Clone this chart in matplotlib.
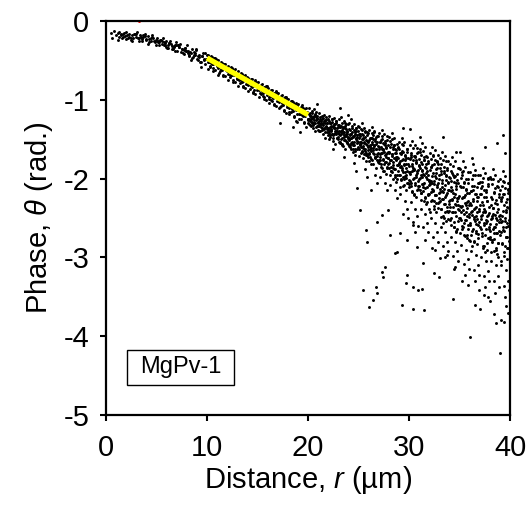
import numpy as np
import matplotlib
matplotlib.use("Agg")
from matplotlib import pyplot as plt
from matplotlib.patches import Rectangle

plt.rcParams['font.family'] = ['Liberation Sans', 'DejaVu Sans']
plt.rcParams['mathtext.fontset'] = 'custom'
plt.rcParams['mathtext.it'] = 'Liberation Sans:italic'
plt.rcParams['mathtext.rm'] = 'Liberation Sans'

near_pts = np.array([
    0.5, -0.15, 0.6, -0.22, 0.8, -0.13, 1.0, -0.18, 1.2, -0.24, 1.3, -0.14, 1.5, -0.17, 1.7, -0.2,
    1.8, -0.15, 2.0, -0.23, 2.1, -0.18, 2.3, -0.16, 2.5, -0.21, 2.6, -0.25, 2.8, -0.17, 3.0, -0.2,
    3.1, -0.14, 3.3, -0.22, 3.4, -0.18, 3.6, -0.26, 3.7, -0.2, 3.9, -0.17, 4.0, -0.23, 4.2, -0.19,
    4.3, -0.27, 4.5, -0.22, 4.6, -0.18, 4.8, -0.25, 4.9, -0.3,
    5.0, -0.21, 5.2, -0.27, 5.3, -0.24, 5.5, -0.29, 5.6, -0.22, 5.8, -0.31, 5.9, -0.26, 6.0, -0.34,
    6.2, -0.28, 6.3, -0.25, 6.5, -0.32, 6.6, -0.36, 6.8, -0.3, 6.9, -0.27, 7.0, -0.38, 7.2, -0.33,
    7.3, -0.29, 7.5, -0.36, 7.6, -0.41, 7.8, -0.34, 7.9, -0.38, 8.0, -0.31, 8.2, -0.43, 8.3, -0.39,
    8.5, -0.36, 8.6, -0.46, 8.8, -0.41, 8.9, -0.37, 9.0, -0.48, 9.2, -0.43, 9.3, -0.52, 9.5, -0.45,
    9.6, -0.41, 9.8, -0.55, 9.9, -0.48, 5.1, -0.25, 5.7, -0.27, 6.1, -0.3, 6.7, -0.33, 7.1, -0.31,
    7.7, -0.37, 8.1, -0.4, 8.7, -0.43, 9.1, -0.45, 9.7, -0.5, 9.4, -0.58, 8.4, -0.5,
    10.05, -0.43, 10.1, -0.52, 10.2, -0.47, 10.3, -0.57, 10.35, -0.5, 10.45, -0.46, 10.5, -0.55,
    10.6, -0.6, 10.65, -0.49, 10.75, -0.53, 10.8, -0.62, 10.9, -0.5, 10.95, -0.57, 10.4, -0.53,
    11.05, -0.5, 11.1, -0.6, 11.2, -0.55, 11.3, -0.64, 11.35, -0.57, 11.45, -0.53, 11.5, -0.62,
    11.6, -0.68, 11.65, -0.56, 11.75, -0.6, 11.8, -0.7, 11.9, -0.58, 11.95, -0.64, 11.4, -0.61,
    12.05, -0.57, 12.1, -0.67, 12.2, -0.62, 12.3, -0.71, 12.35, -0.64, 12.45, -0.6, 12.5, -0.69,
    12.6, -0.75, 12.65, -0.63, 12.75, -0.68, 12.8, -0.78, 12.9, -0.66, 12.95, -0.72, 12.4, -0.68,
    13.05, -0.64, 13.1, -0.74, 13.2, -0.69, 13.3, -0.79, 13.35, -0.71, 13.45, -0.67, 13.5, -0.77,
    13.6, -0.83, 13.65, -0.7, 13.75, -0.75, 13.8, -0.85, 13.9, -0.73, 13.95, -0.8, 13.4, -0.75,
    14.05, -0.72, 14.1, -0.81, 14.2, -0.76, 14.3, -0.86, 14.35, -0.78, 14.45, -0.74, 14.5, -0.84,
    14.6, -0.9, 14.65, -0.77, 14.75, -0.82, 14.8, -0.93, 14.9, -0.8, 14.95, -0.87, 14.4, -0.82,
    15.05, -0.78, 15.1, -0.88, 15.2, -0.83, 15.3, -0.93, 15.35, -0.85, 15.45, -0.8, 15.5, -0.91,
    15.6, -0.97, 15.65, -0.84, 15.75, -0.89, 15.8, -1.0, 15.9, -0.87, 15.95, -0.94, 15.4, -0.89,
    16.05, -0.85, 16.1, -0.96, 16.2, -0.9, 16.3, -1.0, 16.35, -0.92, 16.45, -0.87, 16.5, -0.98,
    16.6, -1.05, 16.65, -0.91, 16.75, -0.96, 16.8, -1.08, 16.9, -0.94, 16.95, -1.01, 16.4, -0.96,
    17.05, -0.92, 17.1, -1.03, 17.2, -0.97, 17.3, -1.08, 17.35, -0.99, 17.45, -0.94, 17.5, -1.06,
    17.6, -1.13, 17.65, -0.98, 17.75, -1.04, 17.8, -1.17, 17.9, -1.01, 17.95, -1.09, 17.4, -1.04,
    18.05, -0.99, 18.1, -1.11, 18.2, -1.04, 18.3, -1.16, 18.35, -1.07, 18.45, -1.01, 18.5, -1.14,
    18.6, -1.22, 18.65, -1.05, 18.75, -1.11, 18.8, -1.27, 18.9, -1.08, 18.95, -1.18, 18.4, -1.12,
    19.05, -1.05, 19.1, -1.18, 19.2, -1.11, 19.3, -1.24, 19.35, -1.14, 19.45, -1.07, 19.5, -1.21,
    19.6, -1.3, 19.65, -1.12, 19.75, -1.18, 19.8, -1.34, 19.9, -1.15, 19.95, -1.26, 19.4, -1.19,
    17.2, -1.3, 18.5, -1.35, 19.2, -1.41, 18.9, -1.28,
]).reshape(-1, 2)

# second pass over the dense ribbon below 20 um
near_core = np.array([
    1.15, -0.15, 1.25, -0.2, 1.45, -0.18, 1.55, -0.22, 1.7, -0.16, 1.85, -0.19, 1.95, -0.14,
    2.15, -0.22, 2.25, -0.2, 2.45, -0.24, 2.55, -0.18, 2.7, -0.21, 2.85, -0.16, 2.95, -0.17,
    3.15, -0.21, 3.25, -0.26, 3.45, -0.2, 3.55, -0.23, 3.7, -0.18, 3.85, -0.19, 3.95, -0.24,
    4.15, -0.29, 4.25, -0.23, 4.45, -0.26, 4.55, -0.2, 4.7, -0.21, 4.85, -0.27, 4.95, -0.24,
    5.15, -0.27, 5.25, -0.3, 5.45, -0.24, 5.55, -0.25, 5.7, -0.31, 5.85, -0.28, 5.95, -0.33,
    6.15, -0.34, 6.25, -0.28, 6.45, -0.29, 6.55, -0.35, 6.7, -0.32, 6.85, -0.38, 6.95, -0.3,
    7.15, -0.31, 7.25, -0.33, 7.45, -0.39, 7.55, -0.36, 7.7, -0.42, 7.85, -0.34, 7.95, -0.38,
    8.15, -0.38, 8.25, -0.44, 8.45, -0.41, 8.55, -0.47, 8.7, -0.39, 8.85, -0.43, 8.95, -0.36,
    9.15, -0.49, 9.25, -0.46, 9.45, -0.52, 9.55, -0.44, 9.7, -0.48, 9.85, -0.41, 9.95, -0.43,
    10.15, -0.52, 10.25, -0.59, 10.45, -0.5, 10.55, -0.54, 10.7, -0.47, 10.85, -0.48, 10.95, -0.55,
    11.15, -0.66, 11.25, -0.57, 11.45, -0.61, 11.55, -0.54, 11.7, -0.55, 11.85, -0.62, 11.95, -0.59,
    12.15, -0.64, 12.25, -0.68, 12.45, -0.61, 12.55, -0.62, 12.7, -0.69, 12.85, -0.66, 12.95, -0.73,
    13.15, -0.75, 13.25, -0.68, 13.45, -0.69, 13.55, -0.76, 13.7, -0.73, 13.85, -0.8, 13.95, -0.71,
    14.15, -0.75, 14.25, -0.76, 14.45, -0.83, 14.55, -0.8, 14.7, -0.87, 14.85, -0.78, 14.95, -0.82,
    15.15, -0.84, 15.25, -0.91, 15.45, -0.88, 15.55, -0.95, 15.7, -0.86, 15.85, -0.9, 15.95, -0.83,
    16.15, -0.99, 16.25, -0.95, 16.45, -1.02, 16.55, -0.93, 16.7, -0.97, 16.85, -0.89, 16.95, -0.91,
    17.15, -1.02, 17.25, -1.09, 17.45, -0.99, 17.55, -1.04, 17.7, -0.96, 17.85, -0.98, 17.95, -1.06,
    18.15, -1.16, 18.25, -1.06, 18.45, -1.11, 18.55, -1.03, 18.7, -1.05, 18.85, -1.13, 18.95, -1.09,
    19.15, -1.13, 19.25, -1.18, 19.45, -1.09, 19.55, -1.11, 19.7, -1.2, 19.85, -1.16, 19.95, -1.24,
    # fringe of the ribbon either side of the fit line
    10.1, -0.61, 10.35, -0.45, 10.6, -0.63, 10.8, -0.47, 11.1, -0.68, 11.35, -0.52, 11.6, -0.7,
    11.8, -0.54, 12.1, -0.75, 12.35, -0.59, 12.6, -0.77, 12.8, -0.61, 13.1, -0.82, 13.35, -0.66,
    13.6, -0.84, 13.8, -0.68, 14.1, -0.89, 14.35, -0.73, 14.6, -0.91, 14.8, -0.75, 15.1, -0.97,
    15.35, -0.81, 15.6, -0.99, 15.8, -0.83, 16.1, -1.04, 16.35, -0.88, 16.6, -1.07, 16.8, -0.9,
    17.1, -1.11, 17.35, -0.95, 17.6, -1.14, 17.8, -0.97, 18.1, -1.18, 18.35, -1.02, 18.6, -1.21,
    18.8, -1.04, 19.1, -1.25, 19.35, -1.09, 19.6, -1.28, 19.8, -1.11,
]).reshape(-1, 2)

far_pts = np.array([
    20.05, -1.1, 20.1, -1.25, 20.15, -1.17, 20.2, -1.32, 20.3, -1.2, 20.35, -1.14, 20.4, -1.28,
    20.45, -1.36, 20.5, -1.22, 20.55, -1.12, 20.6, -1.3, 20.65, -1.19, 20.7, -1.4, 20.75, -1.26,
    20.8, -1.16, 20.85, -1.33, 20.9, -1.23, 20.95, -1.29, 20.25, -1.24, 20.0, -1.3,
    21.05, -1.17, 21.1, -1.33, 21.15, -1.24, 21.2, -1.4, 21.3, -1.27, 21.35, -1.2, 21.4, -1.36,
    21.45, -1.44, 21.5, -1.29, 21.55, -1.19, 21.6, -1.37, 21.65, -1.26, 21.7, -1.48, 21.75, -1.33,
    21.8, -1.22, 21.85, -1.41, 21.9, -1.3, 21.95, -1.36, 21.25, -1.31, 21.0, -1.38,
    22.05, -1.21, 22.1, -1.39, 22.15, -1.29, 22.2, -1.47, 22.3, -1.33, 22.35, -1.25, 22.4, -1.43,
    22.45, -1.52, 22.5, -1.35, 22.55, -1.23, 22.6, -1.44, 22.65, -1.31, 22.7, -1.56, 22.75, -1.39,
    22.8, -1.27, 22.85, -1.48, 22.9, -1.36, 22.95, -1.42, 22.25, -1.37, 22.0, -1.45, 22.5, -1.62,
    23.05, -1.25, 23.1, -1.44, 23.15, -1.34, 23.2, -1.54, 23.3, -1.39, 23.35, -1.29, 23.4, -1.49,
    23.45, -1.59, 23.5, -1.41, 23.55, -1.27, 23.6, -1.51, 23.65, -1.36, 23.7, -1.63, 23.75, -1.44,
    23.8, -1.31, 23.85, -1.55, 23.9, -1.41, 23.95, -1.47, 23.25, -1.43, 23.0, -1.5, 23.6, -1.72,
    23.3, -1.22,
    24.05, -1.29, 24.1, -1.5, 24.15, -1.38, 24.2, -1.6, 24.3, -1.44, 24.35, -1.33, 24.4, -1.55,
    24.45, -1.66, 24.5, -1.46, 24.55, -1.31, 24.6, -1.58, 24.65, -1.41, 24.7, -1.7, 24.75, -1.5,
    24.8, -1.36, 24.85, -1.62, 24.9, -1.47, 24.95, -1.54, 24.25, -1.49, 24.0, -1.56, 24.6, -1.8,
    24.3, -1.25, 24.8, -1.9,
    25.05, -1.34, 25.1, -1.56, 25.15, -1.44, 25.2, -1.68, 25.3, -1.5, 25.35, -1.38, 25.4, -1.61,
    25.45, -1.74, 25.5, -1.53, 25.55, -1.36, 25.6, -1.65, 25.65, -1.47, 25.7, -1.78, 25.75, -1.56,
    25.8, -1.41, 25.85, -1.7, 25.9, -1.53, 25.95, -1.6, 25.25, -1.55, 25.0, -1.62, 25.6, -1.88,
    25.3, -1.3, 25.8, -1.98, 25.45, -1.45,
    26.05, -1.38, 26.1, -1.62, 26.15, -1.49, 26.2, -1.75, 26.3, -1.56, 26.35, -1.42, 26.4, -1.68,
    26.45, -1.82, 26.5, -1.59, 26.55, -1.4, 26.6, -1.72, 26.65, -1.52, 26.7, -1.86, 26.75, -1.62,
    26.8, -1.46, 26.85, -1.77, 26.9, -1.59, 26.95, -1.67, 26.25, -1.61, 26.0, -1.69, 26.6, -1.95,
    26.3, -1.34, 26.8, -2.05, 26.45, -1.5,
    27.05, -1.42, 27.1, -1.69, 27.15, -1.54, 27.2, -1.82, 27.3, -1.62, 27.35, -1.46, 27.4, -1.75,
    27.45, -1.9, 27.5, -1.66, 27.55, -1.44, 27.6, -1.79, 27.65, -1.57, 27.7, -1.94, 27.75, -1.69,
    27.8, -1.51, 27.85, -1.85, 27.9, -1.66, 27.95, -1.74, 27.25, -1.68, 27.0, -1.77, 27.6, -2.05,
    27.3, -1.38, 27.8, -2.15, 27.45, -1.55, 27.15, -1.98, 27.7, -1.6,
    28.05, -1.47, 28.1, -1.76, 28.15, -1.6, 28.2, -1.91, 28.3, -1.69, 28.35, -1.5, 28.4, -1.83,
    28.45, -2.0, 28.5, -1.74, 28.55, -1.48, 28.6, -1.88, 28.65, -1.63, 28.7, -2.04, 28.75, -1.77,
    28.8, -1.56, 28.85, -1.95, 28.9, -1.74, 28.95, -1.83, 28.25, -1.76, 28.0, -1.86, 28.6, -2.15,
    28.3, -1.42, 28.8, -2.25, 28.45, -1.6, 28.15, -2.08, 28.7, -1.67,
    29.05, -1.53, 29.1, -1.85, 29.15, -1.67, 29.2, -2.01, 29.3, -1.77, 29.35, -1.56, 29.4, -1.92,
    29.45, -2.1, 29.5, -1.82, 29.55, -1.53, 29.6, -1.97, 29.65, -1.7, 29.7, -2.15, 29.75, -1.86,
    29.8, -1.62, 29.85, -2.05, 29.9, -1.82, 29.95, -1.92, 29.25, -1.84, 29.0, -1.95, 29.6, -2.28,
    29.3, -1.48, 29.8, -2.38, 29.45, -1.66, 29.15, -2.2, 29.7, -1.74, 29.9, -2.5, 29.4, -2.45,
    30.05, -1.58, 30.1, -1.92, 30.15, -1.73, 30.2, -2.1, 30.3, -1.84, 30.35, -1.61, 30.4, -2.0,
    30.45, -2.19, 30.5, -1.89, 30.55, -1.57, 30.6, -2.05, 30.65, -1.76, 30.7, -2.24, 30.75, -1.93,
    30.8, -1.67, 30.85, -2.13, 30.9, -1.89, 30.95, -2.0, 30.25, -1.91, 30.0, -2.02, 30.6, -2.38,
    30.3, -1.52, 30.8, -2.48, 30.45, -1.71, 30.15, -2.3, 30.7, -1.8, 30.9, -2.6, 30.4, -2.55,
    30.55, -2.68,
    31.05, -1.62, 31.1, -1.99, 31.15, -1.79, 31.2, -2.18, 31.3, -1.9, 31.35, -1.65, 31.4, -2.07,
    31.45, -2.28, 31.5, -1.95, 31.55, -1.6, 31.6, -2.12, 31.65, -1.81, 31.7, -2.32, 31.75, -2.0,
    31.8, -1.72, 31.85, -2.21, 31.9, -1.96, 31.95, -2.08, 31.25, -1.98, 31.0, -2.1, 31.6, -2.45,
    31.3, -1.55, 31.8, -2.56, 31.45, -1.76, 31.15, -2.38, 31.7, -1.86, 31.9, -2.68, 31.4, -2.62,
    31.55, -2.78, 31.2, -1.7,
    32.05, -1.67, 32.1, -2.07, 32.15, -1.85, 32.2, -2.28, 32.3, -1.97, 32.35, -1.7, 32.4, -2.16,
    32.45, -2.38, 32.5, -2.03, 32.55, -1.64, 32.6, -2.21, 32.65, -1.88, 32.7, -2.42, 32.75, -2.08,
    32.8, -1.78, 32.85, -2.31, 32.9, -2.05, 32.95, -2.18, 32.25, -2.06, 32.0, -2.19, 32.6, -2.56,
    32.3, -1.6, 32.8, -2.68, 32.45, -1.82, 32.15, -2.5, 32.7, -1.93, 32.9, -2.8, 32.4, -2.74,
    32.55, -2.9, 32.2, -1.75, 32.85, -1.7,
    33.05, -1.74, 33.1, -2.17, 33.15, -1.94, 33.2, -2.39, 33.3, -2.06, 33.35, -1.77, 33.4, -2.26,
    33.45, -2.5, 33.5, -2.13, 33.55, -1.71, 33.6, -2.32, 33.65, -1.97, 33.7, -2.54, 33.75, -2.18,
    33.8, -1.86, 33.85, -2.43, 33.9, -2.15, 33.95, -2.29, 33.25, -2.16, 33.0, -2.3, 33.6, -2.68,
    33.3, -1.66, 33.8, -2.8, 33.45, -1.9, 33.15, -2.62, 33.7, -2.02, 33.9, -2.92, 33.4, -2.86,
    33.55, -3.0, 33.2, -1.82, 33.85, -1.78,
    34.05, -1.81, 34.1, -2.27, 34.15, -2.03, 34.2, -2.5, 34.3, -2.15, 34.35, -1.84, 34.4, -2.36,
    34.45, -2.62, 34.5, -2.23, 34.55, -1.78, 34.6, -2.43, 34.65, -2.06, 34.7, -2.66, 34.75, -2.28,
    34.8, -1.94, 34.85, -2.54, 34.9, -2.25, 34.95, -2.4, 34.25, -2.26, 34.0, -2.41, 34.6, -2.8,
    34.3, -1.72, 34.8, -2.92, 34.45, -1.98, 34.15, -2.74, 34.7, -2.1, 34.9, -3.05, 34.4, -2.98,
    34.55, -3.12, 34.2, -1.9, 34.85, -1.86, 34.65, -2.33,
    35.05, -1.88, 35.1, -2.36, 35.15, -2.11, 35.2, -2.6, 35.3, -2.23, 35.35, -1.91, 35.4, -2.45,
    35.45, -2.72, 35.5, -2.31, 35.55, -1.85, 35.6, -2.52, 35.65, -2.14, 35.7, -2.76, 35.75, -2.37,
    35.8, -2.01, 35.85, -2.64, 35.9, -2.33, 35.95, -2.49, 35.25, -2.35, 35.0, -2.5, 35.6, -2.9,
    35.3, -1.78, 35.8, -3.02, 35.45, -2.05, 35.15, -2.84, 35.7, -2.18, 35.9, -3.15, 35.4, -3.08,
    35.55, -3.22, 35.2, -1.96, 35.85, -1.92, 35.65, -2.42,
    36.05, -1.92, 36.1, -2.42, 36.15, -2.16, 36.2, -2.67, 36.3, -2.28, 36.35, -1.95, 36.4, -2.51,
    36.45, -2.79, 36.5, -2.37, 36.55, -1.89, 36.6, -2.58, 36.65, -2.19, 36.7, -2.83, 36.75, -2.43,
    36.8, -2.05, 36.85, -2.7, 36.9, -2.39, 36.95, -2.55, 36.25, -2.41, 36.0, -2.56, 36.6, -2.97,
    36.3, -1.82, 36.8, -3.1, 36.45, -2.1, 36.15, -2.92, 36.7, -2.23, 36.9, -3.22, 36.4, -3.16,
    36.55, -3.3, 36.2, -2.0, 36.85, -1.96, 36.65, -2.48,
    37.05, -1.96, 37.1, -2.47, 37.15, -2.2, 37.2, -2.73, 37.3, -2.33, 37.35, -1.99, 37.4, -2.57,
    37.45, -2.86, 37.5, -2.42, 37.55, -1.93, 37.6, -2.64, 37.65, -2.24, 37.7, -2.9, 37.75, -2.48,
    37.8, -2.09, 37.85, -2.76, 37.9, -2.44, 37.95, -2.61, 37.25, -2.46, 37.0, -2.62, 37.6, -3.04,
    37.3, -1.86, 37.8, -3.17, 37.45, -2.14, 37.15, -2.99, 37.7, -2.28, 37.9, -3.3, 37.4, -3.24,
    37.55, -3.38, 37.2, -2.04, 37.85, -2.0, 37.65, -2.53,
    38.05, -1.98, 38.1, -2.51, 38.15, -2.23, 38.2, -2.78, 38.3, -2.37, 38.35, -2.01, 38.4, -2.62,
    38.45, -2.92, 38.5, -2.46, 38.55, -1.95, 38.6, -2.69, 38.65, -2.27, 38.7, -2.96, 38.75, -2.52,
    38.8, -2.11, 38.85, -2.82, 38.9, -2.48, 38.95, -2.66, 38.25, -2.5, 38.0, -2.67, 38.6, -3.1,
    38.3, -1.88, 38.8, -3.24, 38.45, -2.17, 38.15, -3.05, 38.7, -2.32, 38.9, -3.37, 38.4, -3.3,
    38.55, -3.45, 38.2, -2.07, 38.85, -2.03, 38.65, -2.58,
    39.05, -2.0, 39.1, -2.55, 39.15, -2.26, 39.2, -2.83, 39.3, -2.41, 39.35, -2.03, 39.4, -2.67,
    39.45, -2.98, 39.5, -2.5, 39.55, -1.97, 39.6, -2.74, 39.65, -2.3, 39.7, -3.02, 39.75, -2.56,
    39.8, -2.13, 39.85, -2.88, 39.9, -2.52, 39.95, -2.71, 39.25, -2.54, 39.0, -2.72, 39.6, -3.16,
    39.3, -1.9, 39.8, -3.3, 39.45, -2.2, 39.15, -3.1, 39.7, -2.36, 39.9, -3.42, 39.4, -3.36,
    39.55, -3.5, 39.2, -2.09, 39.85, -2.06, 39.65, -2.62,
]).reshape(-1, 2)

# second pass over the dense core beyond 20 um, one row per micron
core_r = np.array([0.02, 0.08, 0.12, 0.18, 0.22, 0.28, 0.32, 0.38, 0.42, 0.48,
                   0.52, 0.58, 0.62, 0.68, 0.72, 0.78, 0.82, 0.88, 0.92, 0.98])
core_theta = np.array([
    [-1.24, -1.31, -1.18, -1.27, -1.21, -1.33, -1.25, -1.17, -1.29, -1.23, -1.32, -1.2, -1.26, -1.18, -1.3, -1.22, -1.34, -1.24, -1.2, -1.28],
    [-1.33, -1.27, -1.39, -1.31, -1.22, -1.35, -1.29, -1.38, -1.25, -1.32, -1.23, -1.36, -1.27, -1.41, -1.3, -1.26, -1.34, -1.3, -1.37, -1.24],
    [-1.37, -1.27, -1.42, -1.34, -1.45, -1.3, -1.38, -1.28, -1.43, -1.33, -1.48, -1.36, -1.31, -1.4, -1.36, -1.44, -1.29, -1.4, -1.32, -1.47],
    [-1.4, -1.53, -1.35, -1.45, -1.33, -1.5, -1.38, -1.56, -1.42, -1.36, -1.47, -1.41, -1.51, -1.33, -1.46, -1.37, -1.54, -1.43, -1.31, -1.49],
    [-1.51, -1.37, -1.57, -1.44, -1.63, -1.48, -1.41, -1.54, -1.47, -1.58, -1.38, -1.53, -1.43, -1.62, -1.49, -1.36, -1.55, -1.45, -1.6, -1.4],
    [-1.49, -1.71, -1.54, -1.46, -1.6, -1.53, -1.65, -1.43, -1.59, -1.48, -1.69, -1.55, -1.4, -1.62, -1.51, -1.67, -1.45, -1.57, -1.42, -1.64],
    [-1.51, -1.67, -1.59, -1.72, -1.48, -1.65, -1.53, -1.76, -1.61, -1.45, -1.69, -1.57, -1.74, -1.5, -1.63, -1.47, -1.71, -1.54, -1.79, -1.6],
    [-1.8, -1.54, -1.73, -1.6, -1.85, -1.68, -1.5, -1.76, -1.63, -1.82, -1.56, -1.7, -1.52, -1.79, -1.61, -1.87, -1.67, -1.57, -1.74, -1.66],
    [-1.67, -1.95, -1.76, -1.56, -1.85, -1.71, -1.92, -1.63, -1.79, -1.58, -1.88, -1.68, -1.98, -1.75, -1.64, -1.83, -1.73, -1.9, -1.6, -1.81],
    [-1.62, -1.95, -1.78, -2.02, -1.69, -1.87, -1.65, -1.98, -1.75, -2.08, -1.83, -1.71, -1.92, -1.81, -1.99, -1.66, -1.9, -1.74, -2.05, -1.84],
    [-2.11, -1.75, -1.94, -1.7, -2.06, -1.81, -2.17, -1.89, -1.76, -1.99, -1.88, -2.08, -1.71, -1.98, -1.79, -2.14, -1.91, -1.66, -2.03, -1.84],
    [-1.75, -2.14, -1.87, -2.27, -1.96, -1.82, -2.07, -1.94, -2.16, -1.76, -2.05, -1.85, -2.23, -1.98, -1.71, -2.11, -1.91, -2.2, -1.8, -2.02],
    [-2.39, -2.05, -1.89, -2.17, -2.03, -2.27, -1.83, -2.15, -1.93, -2.35, -2.07, -1.77, -2.21, -1.99, -2.31, -1.87, -2.11, -1.81, -2.25, -1.95],
    [-2.28, -2.13, -2.39, -1.91, -2.26, -2.02, -2.47, -2.17, -1.85, -2.32, -2.08, -2.43, -1.96, -2.21, -1.89, -2.36, -2.04, -2.51, -2.15, -1.98],
    [-1.99, -2.36, -2.11, -2.59, -2.27, -1.93, -2.43, -2.18, -2.55, -2.04, -2.32, -1.97, -2.48, -2.13, -2.64, -2.25, -2.06, -2.39, -2.22, -2.5],
    [-2.69, -2.35, -1.99, -2.52, -2.25, -2.64, -2.11, -2.4, -2.04, -2.57, -2.21, -2.73, -2.33, -2.13, -2.47, -2.3, -2.59, -2.06, -2.45, -2.18],
    [-2.59, -2.31, -2.71, -2.16, -2.46, -2.09, -2.64, -2.26, -2.81, -2.39, -2.19, -2.54, -2.36, -2.66, -2.11, -2.51, -2.24, -2.76, -2.41, -2.04],
    [-2.2, -2.51, -2.12, -2.69, -2.3, -2.88, -2.43, -2.23, -2.59, -2.41, -2.72, -2.15, -2.56, -2.28, -2.82, -2.46, -2.07, -2.64, -2.36, -2.77],
    [-2.74, -2.34, -2.93, -2.47, -2.26, -2.64, -2.45, -2.77, -2.18, -2.61, -2.31, -2.88, -2.5, -2.1, -2.69, -2.39, -2.82, -2.23, -2.55, -2.15],
    [-2.51, -2.29, -2.68, -2.48, -2.82, -2.2, -2.65, -2.34, -2.93, -2.54, -2.12, -2.74, -2.43, -2.88, -2.26, -2.6, -2.18, -2.79, -2.37, -2.99],
])
core_start = np.arange(20, 40)

# third pass, 22-40 um, ten points per micron
fill_r = np.array([0.05, 0.15, 0.25, 0.35, 0.45, 0.55, 0.65, 0.75, 0.85, 0.95])
fill_theta = np.array([
    [-1.5, -1.29, -1.39, -1.24, -1.45, -1.34, -1.42, -1.27, -1.48, -1.35],
    [-1.32, -1.55, -1.41, -1.57, -1.34, -1.45, -1.29, -1.52, -1.39, -1.49],
    [-1.59, -1.45, -1.55, -1.36, -1.63, -1.46, -1.65, -1.39, -1.52, -1.33],
    [-1.44, -1.58, -1.37, -1.66, -1.5, -1.62, -1.41, -1.7, -1.52, -1.73],
    [-1.78, -1.58, -1.81, -1.49, -1.64, -1.41, -1.73, -1.56, -1.69, -1.46],
    [-1.62, -1.76, -1.51, -1.86, -1.64, -1.9, -1.55, -1.72, -1.46, -1.81],
    [-1.8, -1.52, -1.91, -1.69, -1.86, -1.57, -1.96, -1.72, -2.0, -1.61],
    [-1.8, -2.11, -1.68, -1.89, -1.57, -2.01, -1.77, -1.95, -1.63, -2.07],
    [-2.03, -1.68, -2.16, -1.86, -2.21, -1.73, -1.96, -1.61, -2.09, -1.83],
    [-1.66, -2.18, -1.89, -2.11, -1.73, -2.25, -1.93, -2.3, -1.78, -2.03],
    [-2.43, -1.85, -2.13, -1.71, -2.29, -1.97, -2.21, -1.79, -2.37, -2.01],
    [-1.87, -2.49, -2.11, -2.56, -1.93, -2.23, -1.78, -2.41, -2.06, -2.32],
    [-2.52, -2.16, -2.43, -1.95, -2.62, -2.2, -2.68, -2.02, -2.34, -1.86],
    [-2.09, -2.42, -1.92, -2.61, -2.23, -2.52, -2.01, -2.71, -2.28, -2.78],
    [-2.79, -2.34, -2.86, -2.14, -2.49, -1.96, -2.69, -2.29, -2.59, -2.06],
    [-2.33, -2.64, -2.1, -2.85, -2.38, -2.93, -2.17, -2.54, -1.99, -2.75],
    [-2.58, -2.01, -2.8, -2.37, -2.69, -2.12, -2.91, -2.42, -2.99, -2.2],
    [-2.46, -3.04, -2.23, -2.62, -2.04, -2.85, -2.4, -2.74, -2.15, -2.96],
])
fill_start = np.arange(22, 40)

# sparse points outside the main band
outlier_pts = np.array([
    20.9, -1.05, 23.2, -1.1, 24.0, -1.19, 29.4, -1.36, 30.1, -1.37, 31.1, -1.47, 33.4, -1.47,
    34.7, -1.66, 35.0, -1.66, 36.2, -1.74, 37.5, -1.6, 38.7, -1.55, 39.3, -1.45, 39.5, -1.68,
    24.9, -2.12, 25.1, -2.4, 25.7, -2.65, 25.8, -2.8, 26.2, -2.14, 26.8, -2.55, 27.3, -2.46,
    27.9, -2.4, 28.1, -2.72, 28.6, -2.94, 28.8, -2.93, 29.1, -2.69, 29.8, -2.78, 30.4, -2.59,
    30.8, -2.87, 31.4, -3.07, 32.3, -2.88, 33.1, -3.01, 33.8, -2.97,
    25.4, -3.41, 26.0, -3.63, 26.4, -3.54, 26.7, -3.38, 26.8, -3.45, 27.3, -3.18, 27.4, -3.25,
    27.6, -3.12, 29.3, -3.6, 29.7, -3.33, 29.8, -3.22, 30.4, -3.65, 30.4, -3.38, 30.9, -3.41,
    31.3, -3.4, 31.5, -3.67, 34.4, -3.53, 34.5, -3.15, 36.0, -4.01, 36.5, -3.6, 37.0, -3.65,
    37.8, -3.5, 38.4, -3.72, 38.6, -3.83, 39.0, -4.21, 39.1, -3.8, 39.4, -3.82, 39.6, -3.62,
    38.0, -3.55, 37.4, -3.48, 36.9, -3.42, 35.8, -3.35, 39.8, -3.7, 35.2, -3.3, 33.0, -3.25,
    32.5, -3.2,
]).reshape(-1, 2)

red_r = [3.3, 40.0]
red_theta = [0.0, -2.63]

fit_r = [10, 20]
fit_theta = [-0.47, -1.19]

fig = plt.figure(figsize=(5.29, 5.08), dpi=100)
ax = fig.add_axes([0.2004, 0.1831, 0.7637, 0.7756])

dot = dict(s=4.5, marker='o', color='black', linewidths=0)
for pts in (near_pts, near_core, far_pts, outlier_pts):
    ax.scatter(pts[:, 0], pts[:, 1], **dot)
for start, row in zip(core_start, core_theta):
    ax.scatter(start + core_r, row, **dot)
for start, row in zip(fill_start, fill_theta):
    ax.scatter(start + fill_r, row, **dot)
ax.scatter(red_r, red_theta, s=4.5, marker='o', color='red', linewidths=0)
ax.plot(fit_r, fit_theta, color='#ffff00', lw=3.8, solid_capstyle='butt')

ax.set_xlim(0, 40)
ax.set_ylim(-5, 0)
ax.set_xticks([0, 10, 20, 30, 40])
ax.set_yticks([0, -1, -2, -3, -4, -5])
ax.set_xticklabels(['0', '10', '20', '30', '40'])
ax.set_yticklabels(['0', '-1', '-2', '-3', '-4', '-5'])
ax.tick_params(direction='out', length=4, width=1.5, labelsize=21)
ax.tick_params(axis='x', pad=10)
ax.tick_params(axis='y', pad=8)
for s in ax.spines.values():
    s.set_linewidth(1.6)

ax.set_xlabel('Distance, $r$ (µm)', fontsize=21, labelpad=1)
ax.set_ylabel('Phase, $\\theta$ (rad.)', fontsize=21, labelpad=6)

ax.add_patch(Rectangle((0.052, 0.076), 0.265, 0.089, transform=ax.transAxes,
                       facecolor='white', edgecolor='black', lw=1.0))
ax.text(0.1845, 0.121, 'MgPv-1', transform=ax.transAxes, fontsize=17,
        ha='center', va='center')

fig.savefig('out.png', dpi=100)
